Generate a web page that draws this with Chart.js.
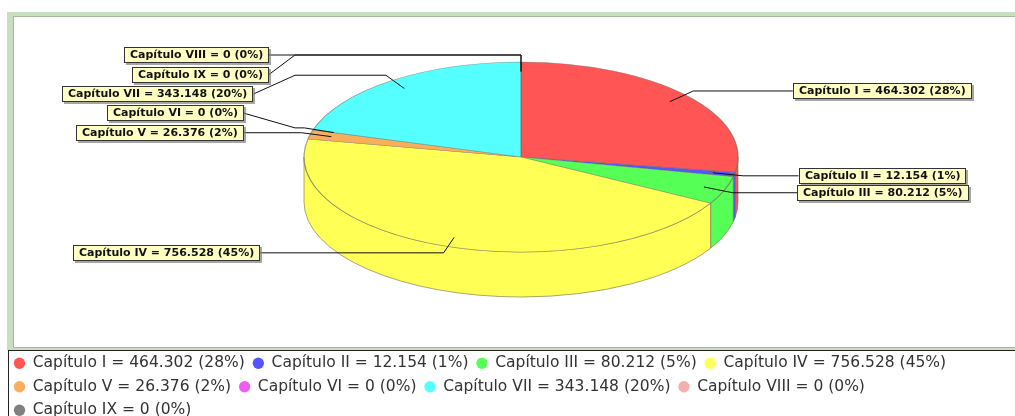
<!DOCTYPE html>
<html>
<head>
<meta charset="utf-8">
<script src="https://cdn.jsdelivr.net/npm/chart.js@4.4.1/dist/chart.umd.min.js"></script>
<style>
  html, body { margin: 0; padding: 0; width: 1015px; height: 416px; overflow: hidden; background: #fff; }
  #frame { position: absolute; left: 7px; top: 12px; width: 1100px; height: 338px; background: #c8dfbf; }
  #panel { position: absolute; left: 13px; top: 16px; width: 1100px; height: 330px; background: #fff;
           border-top: 1px solid #a6b8a0; border-left: 1px solid #a6b8a0; border-bottom: 1px solid #a6b8a0; }
  #legendBox { position: absolute; left: 8px; top: 350px; width: 1100px; height: 100px; background: #fff;
               border-top: 1px solid #222; border-left: 1px solid #222; }
  canvas { position: absolute; left: 0; top: 0; }
</style>
</head>
<body>
<div id="frame"></div>
<div id="panel"></div>
<div id="legendBox"></div>
<canvas id="pieChart" width="1015" height="428"></canvas>
<script>
const categories = ['Capítulo I', 'Capítulo II', 'Capítulo III', 'Capítulo IV', 'Capítulo V',
                    'Capítulo VI', 'Capítulo VII', 'Capítulo VIII', 'Capítulo IX'];
const values = [464302, 12154, 80212, 756528, 26376, 0, 343148, 0, 0];
const colors = ['#ff5555', '#5555ff', '#55ff55', '#ffff55', '#f9ae5c',
                '#f05cf0', '#55ffff', '#f2b0b0', '#808080'];

const total = values.reduce((s, v) => s + v, 0);

// where the flattened pie sits on the page
const PIE = { cx: 521, cy: 157, rx: 217, ry: 95, depth: 45 };
const edge = 'rgba(110,110,90,0.6)';

function fmt(v) {
  return String(v).replace(/\B(?=(\d{3})+(?!\d))/g, '.');
}
function labelText(i) {
  return categories[i] + ' = ' + fmt(values[i]) + ' (' + Math.round(values[i] / total * 100) + '%)';
}

// spread labels apart, working from both ends toward the middle
function adjustInwards(list, h, minGap) {
  let lower = 0, upper = list.length - 1;
  while (upper > lower) {
    if (lower < upper - 1) {
      const r0 = list[lower], r1 = list[lower + 1];
      if (r1.y - h / 2 < r0.y + h / 2) r1.y += (r0.y + h / 2) - (r1.y - h / 2) + minGap;
    }
    const r2 = list[upper - 1], r3 = list[upper];
    if (r2.y + h / 2 > r3.y - h / 2) r2.y -= (r2.y + h / 2) - (r3.y - h / 2) + minGap;
    lower++;
    upper--;
  }
}

function drawLabels(chart) {
  const ctx = chart.ctx;
  const arcs = chart.getDatasetMeta(0).data;
  const lrx = PIE.rx + 9, lry = PIE.ry + 7, halfGap = 26, h = 15.5, minGap = 4;
  const left = [], right = [];
  arcs.forEach((arc, i) => {
    const a = (arc.startAngle + arc.endAngle) / 2;
    const c = Math.cos(a), s = Math.sin(a);
    const rec = { i, c, s, y: PIE.cy + lry * s };
    (c <= 1e-9 ? left : right).push(rec);
  });
  ctx.save();
  ctx.font = 'bold 11px "DejaVu Sans"';
  ctx.textBaseline = 'middle';
  [left, right].forEach(list => {
    const isLeft = list === left;
    list.sort((p, q) => p.y - q.y);
    adjustInwards(list, h, minGap);
    list.forEach(r => {
      const linkX = PIE.cx + PIE.rx * 0.9 * r.c, linkY = PIE.cy + PIE.ry * 0.9 * r.s;
      const elbowX = PIE.cx + lrx * r.c, elbowY = PIE.cy + lry * r.s;
      const anchorX = PIE.cx + (isLeft ? -lrx : lrx);
      const gap = halfGap * (1 + Math.abs(r.c));
      const targetX = anchorX + (isLeft ? -gap : gap);
      ctx.strokeStyle = '#111';
      ctx.lineWidth = 1;
      ctx.beginPath();
      ctx.moveTo(linkX, linkY);
      ctx.lineTo(elbowX, elbowY);
      ctx.lineTo(anchorX, elbowY);
      ctx.lineTo(targetX, r.y);
      ctx.stroke();

      const text = labelText(r.i);
      const w = Math.round(ctx.measureText(text).width + 12);
      const bh = 16;
      const x0 = Math.round(isLeft ? targetX - w : targetX);
      const y0 = Math.round(r.y - bh / 2);
      ctx.fillStyle = 'rgba(128,128,128,0.7)';
      ctx.fillRect(x0 + 2, y0 + 2, w, bh);
      ctx.fillStyle = '#ffffc4';
      ctx.fillRect(x0, y0, w, bh);
      ctx.strokeStyle = '#333';
      ctx.strokeRect(x0 + 0.5, y0 + 0.5, w - 1, bh - 1);
      ctx.fillStyle = '#111';
      ctx.fillText(text, x0 + 6, y0 + bh / 2 + 0.5);
    });
  });
  ctx.restore();
}

const pie3d = {
  id: 'pie3d',
  beforeDatasetsDraw(chart) {
    const ctx = chart.ctx;
    const arcs = chart.getDatasetMeta(0).data;
    // front wall of each slice (only the half facing the viewer)
    ctx.save();
    arcs.forEach(arc => {
      const a1 = Math.max(arc.startAngle, 0), a2 = Math.min(arc.endAngle, Math.PI);
      if (a2 <= a1) return;
      ctx.beginPath();
      ctx.ellipse(PIE.cx, PIE.cy, PIE.rx, PIE.ry, 0, a1, a2);
      ctx.ellipse(PIE.cx, PIE.cy + PIE.depth, PIE.rx, PIE.ry, 0, a2, a1, true);
      ctx.closePath();
      ctx.fillStyle = arc.options.backgroundColor;
      ctx.fill();
      ctx.strokeStyle = edge;
      ctx.lineWidth = 1;
      ctx.stroke();
    });
    ctx.restore();
    // squash the round pie into the top ellipse
    const a0 = arcs[0];
    ctx.save();
    ctx.translate(PIE.cx, PIE.cy);
    ctx.scale(PIE.rx / a0.outerRadius, PIE.ry / a0.outerRadius);
    ctx.translate(-a0.x, -a0.y);
  },
  afterDatasetsDraw(chart) {
    chart.ctx.restore();
    drawLabels(chart);
  }
};

new Chart(document.getElementById('pieChart'), {
  type: 'pie',
  data: {
    labels: categories,
    datasets: [{
      data: values,
      backgroundColor: colors,
      borderColor: edge,
      borderWidth: 1,
      clip: false
    }]
  },
  options: {
    responsive: false,
    devicePixelRatio: 1,
    animation: false,
    events: [],
    layout: { padding: { left: 6, right: 0, top: 20, bottom: 0 } },
    plugins: {
      tooltip: { enabled: false },
      legend: {
        position: 'bottom',
        align: 'start',
        labels: {
          usePointStyle: true,
          boxWidth: 11,
          boxHeight: 8,
          padding: 8,
          color: '#333',
          font: { family: '"DejaVu Sans"', size: 15.5 },
          generateLabels: () => categories.map((c, i) => ({
            text: labelText(i),
            fillStyle: colors[i],
            strokeStyle: colors[i],
            lineWidth: 0,
            pointStyle: 'circle',
            hidden: false,
            index: i,
            fontColor: '#333'
          }))
        }
      }
    }
  },
  plugins: [pie3d]
});
</script>
</body>
</html>
